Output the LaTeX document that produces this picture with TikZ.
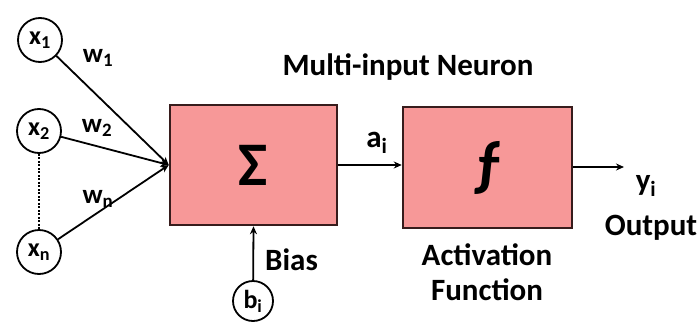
\documentclass[tikz,border=0pt]{standalone}
\usepackage{fontspec}
\setmainfont{Carlito}
\usetikzlibrary{arrows.meta}
\definecolor{boxfill}{RGB}{247,152,152}
\definecolor{boxdraw}{RGB}{55,28,28}
\begin{document}
\begin{tikzpicture}[x=1pt,y=-1pt,
  lbl/.style={font=\fontsize{31}{34}\selectfont\bfseries, inner sep=0pt},
  wlbl/.style={font=\fontsize{27}{29}\selectfont\bfseries, inner sep=0pt},
  inp/.style={circle, draw, line width=1.8pt, minimum size=44pt, inner sep=0pt, font=\fontsize{26}{28}\selectfont\bfseries},
  blk/.style={draw=boxdraw, fill=boxfill, line width=2.5pt, minimum width=167pt, minimum height=120pt, inner sep=0pt, font=\fontsize{62}{64}\selectfont\bfseries},
  wire/.style={line width=1.8pt},
  arr/.style={wire, -{Stealth[length=8pt,width=7pt]}}]
\useasboundingbox (0,0) rectangle (700,329);
\node[inp] (x1) at (40,40) {x\textsubscript{1}};
\node[inp] (x2) at (39,131) {x\textsubscript{2}};
\node[inp] (xn) at (39,252) {x\textsubscript{n}};
\node[blk] (sum) at (253.5,165) {Σ};
\node[blk, minimum width=169pt, minimum height=121pt] (act) at (487.5,167.5) {ƒ};
\node[inp, minimum size=40pt] (b) at (253,301) {b\textsubscript{i}};
\coordinate (out) at (624,167);
\draw[arr] (x1) -- (sum.west);
\draw[arr] (x2) -- (sum.west);
\draw[arr] (xn) -- (sum.west);
\draw[wire, dash pattern=on 2pt off 1.5pt] (x2) -- (xn);
\draw[arr] (sum.east) -- (act.west |- sum.east);
\draw[arr] (act.east |- out) -- (out);
\draw[arr] (b) -- (sum.south);
\node[wlbl] (w1) at (98,58) {w\textsubscript{1}};
\node[wlbl] (w2) at (97,128) {w\textsubscript{2}};
\node[wlbl] (wn) at (98,199) {w\textsubscript{n}};
\node[lbl, anchor=base] (title) at (408,75) {Multi-input Neuron};
\node[lbl, anchor=base] (ai) at (377,147) {a\textsubscript{i}};
\node[lbl, anchor=base west] (bias) at (265,270) {Bias};
\node[lbl, anchor=base] (actl) at (487,265) {Activation};
\node[lbl, anchor=base] (fun) at (487,300) {Function};
\node[lbl, anchor=base] (yi) at (646,190) {y\textsubscript{i}};
\node[lbl, anchor=base] (outl) at (651,235) {Output};
\end{tikzpicture}
\end{document}
